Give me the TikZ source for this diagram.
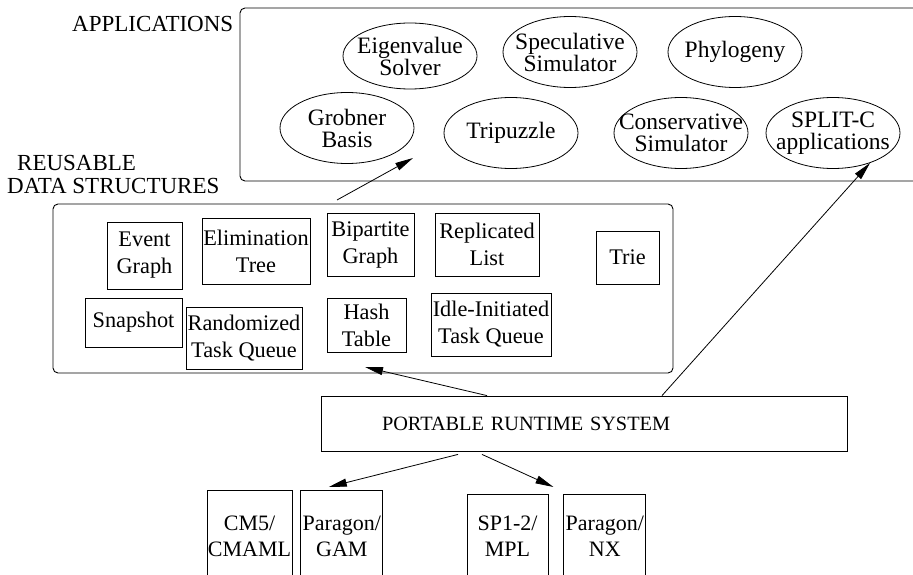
\documentclass[tikz,border=0pt]{standalone}
\usepackage{fontspec}
\setmainfont{Liberation Serif}
\usepackage{tikz}
\usetikzlibrary{
  shapes.geometric,
  arrows.meta,
  positioning
}
\tikzset{
grouplabel/.style={
  font=\fontsize{23}{23}\selectfont,
  align=left,
  inner sep=0pt
},
groupbox/.style={
  draw,
  rounded corners=5pt,
  line width=0.9pt,
  inner sep=0pt
},
appnode/.style={
  ellipse,
  draw,
  line width=0.8pt,
  minimum width=134pt,
  minimum height=71pt,
  inner xsep=-17pt,
  inner ysep=0pt,
  align=center,
  font=\fontsize{23.5}{22}\selectfont
},
dsnode/.style={
  rectangle,
  draw,
  line width=0.8pt,
  inner sep=0pt,
  align=center,
  font=\fontsize{22.3}{27}\selectfont
},
machnode/.style={
  rectangle,
  draw,
  line width=0.8pt,
  anchor=north,
  inner sep=0pt,
  align=center,
  font=\fontsize{22}{26}\selectfont
},
myarrow/.style={
  -{Triangle[length=18pt,width=8pt]},
  line width=0.8pt
}
}

\begin{document}
\begin{tikzpicture}[x=1pt, y=-1pt]
    \useasboundingbox (0,0) rectangle (913,575);
    \clip (0,0) rectangle (913,575);

    % Applications
    \node[grouplabel, anchor=base west] (applabel) at (72,32) {APPLICATIONS};
    \node[groupbox, minimum width=695pt, minimum height=173pt] (apps) at (587.5,94.5) {};

    \node[appnode, minimum height=66pt] (eig) at (410,56) {Eigenvalue\\Solver};
    \node[appnode] (spec) at (570,52) {Speculative\\Simulator};
    \node[appnode] (phyl) at (735,52) {Phylogeny};
    \node[appnode] (grob) at (347,128) {Grobner\\Basis};
    \node[appnode] (trip) at (511,133) {Tripuzzle};
    \node[appnode] (cons) at (681,133) {Conservative\\Simulator};
    \node[appnode] (split) at (833,133) {SPLIT-C\\applications};

    % Reusable data structures
    \node[grouplabel, anchor=north west] (dslabel) at (7,155) {\hspace*{10pt}REUSABLE\\DATA STRUCTURES};
    \node[groupbox, minimum width=620pt, minimum height=169pt] (dsbox) at (363,288.5) {};

    \node[dsnode, minimum width=75pt, minimum height=67pt] (evg) at (144.5,255.5) {Event\\Graph};
    \node[dsnode, minimum width=108pt, minimum height=66pt] (elim) at (256,251) {Elimination\\Tree};
    \node[dsnode, minimum width=87pt, minimum height=63pt] (bip) at (370.5,244.5) {Bipartite\\Graph};
    \node[dsnode, minimum width=104pt, minimum height=63pt] (repl) at (487,244.5) {Replicated\\List};
    \node[dsnode, minimum width=63pt, minimum height=53pt] (trie) at (627.5,257.5) {Trie};
    \node[dsnode, minimum width=97pt, minimum height=49pt] (snap) at (133.5,322.5) {Snapshot};
    \node[dsnode, minimum width=116pt, minimum height=62pt] (rand) at (244,338) {Randomized\\Task Queue};
    \node[dsnode, minimum width=79pt, minimum height=54pt] (hash) at (366.5,325) {Hash\\Table};
    \node[dsnode, minimum width=120pt, minimum height=63pt] (idle) at (491,324.5) {Idle-Initiated\\Task Queue};

    % Runtime system
    \node[rectangle, draw, line width=0.8pt, minimum height=55pt, text width=526pt, inner sep=0pt,
      align=left, font=\fontsize{20.3}{22}\selectfont] (rts) at (584,423.5) {\hspace*{61pt}PORTABLE RUNTIME SYSTEM};

    % Machines
    \node[machnode, minimum width=85pt, minimum height=92pt] (cm5) at (249.5,490) {CM5/\\CMAML};
    \node[machnode, minimum width=82pt, minimum height=92pt, anchor=west, right=8pt of cm5] (gam) {Paragon/\\GAM};
    \node[machnode, minimum width=81pt, minimum height=84pt] (mpl) at (507.5,494) {SP1-2/\\MPL};
    \node[machnode, minimum width=82pt, minimum height=84pt, anchor=west, right=15pt of mpl] (nx) {Paragon/\\NX};

    % Arrows
    \coordinate (dsout) at (337,200);
    \coordinate (appin) at (413,158);
    \coordinate (dsin) at (365,367);
    \draw[myarrow] (dsout) -- (appin);
    \draw[myarrow] ([xshift=78pt]rts.north) -- (split.-39);
    \draw[myarrow] ([xshift=-97pt]rts.north) -- (dsin);
    \draw[myarrow] ([xshift=-126pt,yshift=-3pt]rts.south) -- ([xshift=-13pt,yshift=3pt]gam.north);
    \draw[myarrow] ([xshift=-102pt,yshift=-3pt]rts.south) -- ([xshift=5pt,yshift=7pt]mpl.north east);

  \end{tikzpicture}
\end{document}
